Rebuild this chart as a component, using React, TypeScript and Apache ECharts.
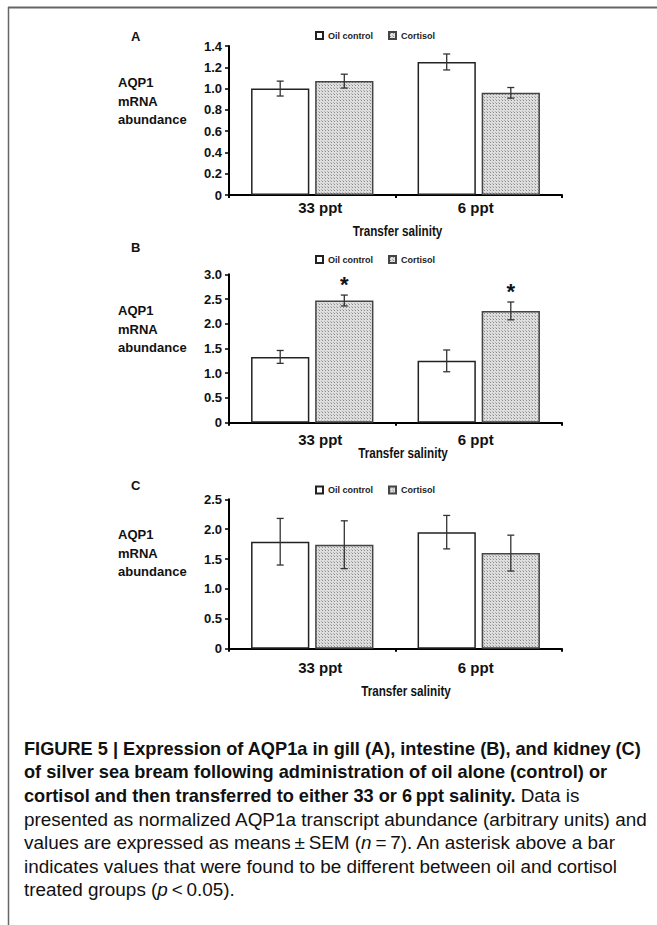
import React, { useEffect, useRef } from "react";
import * as echarts from "echarts";

const categories = ["33 ppt", "6 ppt"];

// Panel A: gill
const gillOil = [1.0, 1.25];
const gillOilSem = [0.07, 0.075];
const gillCort = [1.07, 0.96];
const gillCortSem = [0.065, 0.05];
const gillSig = [false, false];
// Panel B: intestine
const intOil = [1.33, 1.25];
const intOilSem = [0.13, 0.22];
const intCort = [2.47, 2.26];
const intCortSem = [0.11, 0.18];
const intSig = [true, true];
// Panel C: kidney
const kidOil = [1.79, 1.95];
const kidOilSem = [0.39, 0.28];
const kidCort = [1.74, 1.6];
const kidCortSem = [0.4, 0.3];
const kidSig = [false, false];

const seriesNames = ["Oil control", "Cortisol"];
const panelLetters = ["A", "B", "C"];
const yMax = [1.4, 3.0, 2.5];
const yInterval = [0.2, 0.5, 0.5];
const yTitle = "AQP1\nmRNA\nabundance";
const xTitle = "Transfer salinity";

const F = "'Liberation Sans', Arial, sans-serif";

const BAR_FRAC = 0.35;
const GAP_FRAC = 0.1;

function makePattern() {
  const c = document.createElement("canvas");
  c.width = 3;
  c.height = 3;
  const ctx = c.getContext("2d")!;
  ctx.fillStyle = "#dedede";
  ctx.fillRect(0, 0, 3, 3);
  ctx.fillStyle = "#8a8a8a";
  ctx.fillRect(1, 1, 1, 1);
  ctx.fillStyle = "#b0b0b0";
  ctx.fillRect(0, 0, 1, 1);
  return c;
}

export default function App() {
  const ref = useRef<HTMLDivElement>(null);
  useEffect(() => {
    document.body.style.margin = "0";
    const chart = echarts.init(ref.current!, null, { renderer: "svg" });
    const pat = makePattern();
    const patFill: any = { image: pat, repeat: "repeat", imageWidth: 3, imageHeight: 3 };

    const grids = [
      { left: 229, top: 46, width: 333, height: 149 },
      { left: 229, top: 274.3, width: 333, height: 148.4 },
      { left: 229, top: 499.3, width: 333, height: 149.4 },
    ];
    const panels = [
      { oil: gillOil, oilSem: gillOilSem, cort: gillCort, cortSem: gillCortSem, sig: gillSig },
      { oil: intOil, oilSem: intOilSem, cort: intCort, cortSem: intCortSem, sig: intSig },
      { oil: kidOil, oilSem: kidOilSem, cort: kidCort, cortSem: kidCortSem, sig: kidSig },
    ];
    const labelMargin = [5, 9, 11];
    const labelPad = [
      [0, 0, 0, 16],
      [0, 6, 0, 0],
    ];
    const xTitlePos = [
      [397.5, 230.8],
      [403, 452.5],
      [406, 690.5],
    ];
    const legendTop = [31, 255, 485.5];
    const titleY = [101, 329, 553];
    const letterY = [35.5, 247.2, 484.7];

    const xAxis: any[] = [];
    const yAxis: any[] = [];
    const series: any[] = [];
    const legend: any[] = [];
    const graphic: any[] = [];

    panels.forEach((p, i) => {
      xAxis.push({
        type: "category",
        gridIndex: i,
        data: categories.map((c, k) => ({ value: c, textStyle: { padding: labelPad[k] } })),
        axisLine: { lineStyle: { color: "#000", width: 2 } },
        axisTick: { show: true, length: 3, lineStyle: { color: "#000", width: 2 } },
        axisLabel: { color: "#111", fontFamily: F, fontWeight: "bold", fontSize: 15, margin: labelMargin[i] },
      });
      yAxis.push({
        type: "value",
        gridIndex: i,
        min: 0,
        max: yMax[i],
        interval: yInterval[i],
        splitLine: { show: false },
        axisLine: { show: true, lineStyle: { color: "#000", width: 2 } },
        axisTick: { show: true, length: 4, lineStyle: { color: "#000", width: 1.5 } },
        axisLabel: {
          color: "#111",
          fontFamily: F,
          fontWeight: "bold",
          fontSize: 13,
          margin: 7,
          formatter: (v: number) => (v === 0 ? "0" : v.toFixed(1)),
        },
      });
      series.push({
        type: "bar",
        name: seriesNames[0],
        xAxisIndex: i,
        yAxisIndex: i,
        data: p.oil,
        barWidth: BAR_FRAC * 100 + "%",
        barGap: GAP_FRAC * 100 + "%",
        itemStyle: { color: "#ffffff", borderColor: "#222", borderWidth: 1.5 },
      });
      series.push({
        type: "bar",
        name: seriesNames[1],
        xAxisIndex: i,
        yAxisIndex: i,
        data: p.cort,
        barWidth: BAR_FRAC * 100 + "%",
        barGap: GAP_FRAC * 100 + "%",
        itemStyle: { color: patFill, borderColor: "#444", borderWidth: 1.5 },
      });
      const errData: any[] = [];
      categories.forEach((_, c) => {
        errData.push([c, p.oil[c], p.oilSem[c], 0, 0]);
        errData.push([c, p.cort[c], p.cortSem[c], 1, p.sig[c] ? 1 : 0]);
      });
      series.push({
        type: "custom",
        name: "err" + i,
        xAxisIndex: i,
        yAxisIndex: i,
        data: errData,
        encode: { x: 0, y: 1 },
        z: 5,
        renderItem: (params: any, api: any) => {
          const cat = api.value(0);
          const mean = api.value(1);
          const sem = api.value(2);
          const which = api.value(3);
          const sig = api.value(4);
          const band = api.coord([1, 0])[0] - api.coord([0, 0])[0];
          const off = ((band * BAR_FRAC * (1 + GAP_FRAC)) / 2) * (which === 0 ? -1 : 1);
          const top = api.coord([cat, mean + sem]);
          const bot = api.coord([cat, mean - sem]);
          const x = top[0] + off;
          const cap = 3.5;
          const st = { stroke: "#333", lineWidth: 1.3 };
          const children: any[] = [
            { type: "line", shape: { x1: x, y1: top[1], x2: x, y2: bot[1] }, style: st },
            { type: "line", shape: { x1: x - cap, y1: top[1], x2: x + cap, y2: top[1] }, style: st },
            { type: "line", shape: { x1: x - cap, y1: bot[1], x2: x + cap, y2: bot[1] }, style: st },
          ];
          if (sig) {
            children.push({
              type: "text",
              style: {
                text: "*",
                x: x,
                y: top[1],
                align: "center",
                verticalAlign: "bottom",
                fontFamily: F,
                fontWeight: "bold",
                fontSize: 22,
                fill: "#111",
              },
            });
          }
          return { type: "group", children };
        },
      });
      legend.push({
        data: seriesNames,
        left: 315,
        top: legendTop[i],
        padding: 0,
        itemWidth: 7,
        itemHeight: 7,
        itemGap: 15,
        icon: "rect",
        selectedMode: false,
        textStyle: { fontFamily: F, fontWeight: "bold", fontSize: 9, color: "#222" },
      });
      graphic.push({
        type: "text",
        left: 131,
        top: letterY[i] - 6,
        style: { text: panelLetters[i], fontFamily: F, fontWeight: "bold", fontSize: 13, fill: "#111" },
      });
      graphic.push({
        type: "text",
        x: 118,
        y: titleY[i],
        style: {
          text: yTitle,
          fontFamily: F,
          fontWeight: "bold",
          fontSize: 13,
          lineHeight: 18.5,
          fill: "#111",
          align: "left",
          verticalAlign: "middle",
        },
      });
      graphic.push({
        type: "text",
        x: xTitlePos[i][0],
        y: xTitlePos[i][1],
        scaleX: 0.78,
        style: {
          text: xTitle,
          fontFamily: F,
          fontWeight: "bold",
          fontSize: 15,
          fill: "#111",
          align: "center",
          verticalAlign: "middle",
        },
      });
    });

    // Frame
    graphic.push({ type: "line", shape: { x1: 8, y1: 7.5, x2: 657, y2: 7.5 }, style: { stroke: "#666", lineWidth: 2 } });
    graphic.push({ type: "line", shape: { x1: 8.5, y1: 7, x2: 8.5, y2: 925 }, style: { stroke: "#666", lineWidth: 1.5 } });

    // Caption
    const bSize = 18.2;
    const rSize = 18.9;
    const rich = {
      b: { fontFamily: F, fontWeight: "bold", fontSize: bSize, fill: "#111" },
      r: { fontFamily: F, fontWeight: "normal", fontSize: rSize, fill: "#111" },
      i: { fontFamily: F, fontWeight: "normal", fontStyle: "italic", fontSize: rSize, fill: "#111" },
    };
    const captionLines = [
      "{b|FIGURE 5 | Expression of AQP1a in gill (A), intestine (B), and kidney (C)}",
      "{b|of silver sea bream following administration of oil alone (control) or}",
      "{b|cortisol and then transferred to either 33 or 6\u2009ppt salinity.}{r| Data is}",
      "{r|presented as normalized AQP1a transcript abundance (arbitrary units) and}",
      "{r|values are expressed as means\u2009±\u2009SEM (}{i|n}{r|\u2009=\u20097). An asterisk above a bar}",
      "{r|indicates values that were found to be different between oil and cortisol}",
      "{r|treated groups (}{i|p}{r|\u2009<\u20090.05).}",
    ];
    const capY = [749.3, 772.4, 795.6, 819.1, 842.5, 866, 889.3];
    captionLines.forEach((t, k) => {
      graphic.push({
        type: "text",
        x: 24,
        y: capY[k],
        style: { text: t, rich, verticalAlign: "middle", align: "left", fontFamily: F, fontSize: rSize },
      });
    });

    chart.setOption({
      animation: false,
      backgroundColor: "#ffffff",
      grid: grids.map((g) => ({ ...g, containLabel: false })),
      xAxis,
      yAxis,
      legend,
      series,
      graphic,
    });
    return () => chart.dispose();
  }, []);
  return <div ref={ref} style={{ width: 657, height: 925 }} />;
}
